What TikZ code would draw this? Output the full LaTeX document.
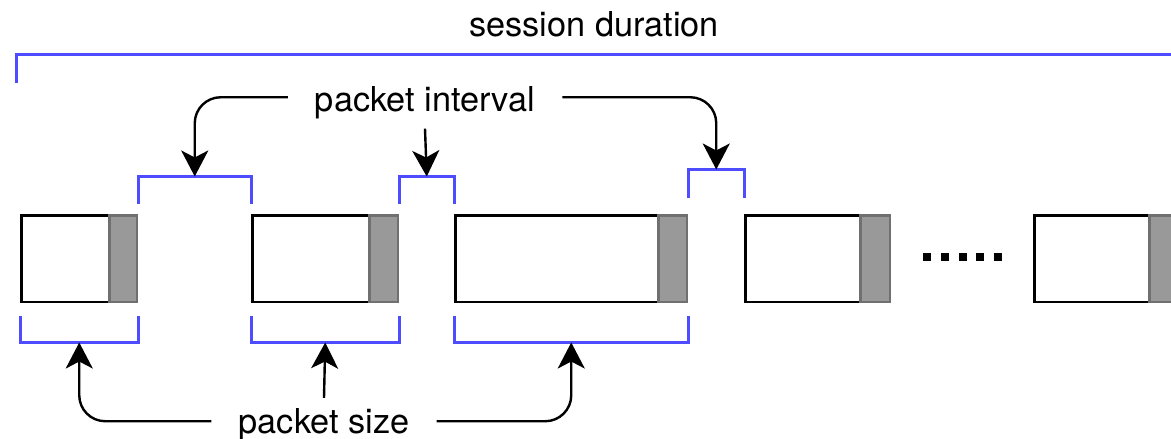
\documentclass[tikz,border=0pt]{standalone}
\usepackage{fontspec}
\setmainfont{TeX Gyre Heros}
\usetikzlibrary{positioning,arrows.meta}
\definecolor{spanblue}{RGB}{77,77,255}
\definecolor{tailgray}{RGB}{153,153,153}
\definecolor{tailedge}{RGB}{112,112,112}
\tikzstyle{arrow} = [line width=2.4pt,-{Stealth[length=26pt,width=27pt,inset=7pt]},rounded corners=26pt]
\tikzstyle{span} = [draw=spanblue,line width=2.8pt]
\tikzstyle{pkt} = [draw=black,line width=2.5pt,fill=white,minimum height=86.5pt,inner sep=0pt,anchor=north west]
\tikzstyle{tail} = [draw=tailedge,fill=tailgray,line width=2.5pt,minimum height=86.5pt,inner sep=0pt,anchor=north east]
\tikzstyle{lbl} = [font=\fontsize{34.3}{40}\selectfont,inner xsep=27pt,inner ysep=10pt,anchor=base]

\begin{document}
\begin{tikzpicture}[x=1pt,y=-1pt]
\useasboundingbox (0,0) rectangle (1171,439);
\clip (0,0) rectangle (1171,439);

% labels
\node[lbl] (sess) at (594,36) {session duration};
\node[lbl] (gap) at (425,111) {packet interval};
\node[lbl] (size) at (324,433) {packet size};

% packets with their grey tails
\foreach \n/\x/\w/\t in {1/20.25/115.5/27.5, 2/251.25/145.5/28.5, 3/454.25/231.5/28.5, 4/744.25/144.5/29.5, 5/1033.25/144.5/29.5}{
  \node[pkt,minimum width=\w pt] (p\n) at (\x,214.25) {};
  \node[tail,minimum width=\t pt] (t\n) at (p\n.north east) {};
}
\foreach \i in {0,...,4}
  \fill (923+\i*17.75,253) rectangle ++(8,8);

% session duration
\coordinate (sessL) at (16.5,83);
\draw[span] (sessL) -- (16.5,54.5) -- (1190,54.5);

% interval brackets
\draw[span] (p1.north east |- 0,204) -- (p1.north east |- 0,176.5) -- coordinate (g1) (p2.north west |- 0,176.5) -- (p2.north west |- 0,204);
\draw[span] (p2.north east |- 0,204) -- (p2.north east |- 0,176.5) -- coordinate (g2) (p3.north west |- 0,176.5) -- (p3.north west |- 0,204);
\draw[span] (p3.north east |- 0,198) -- (p3.north east |- 0,169.5) -- coordinate (g3) (p4.north west |- 0,169.5) -- (p4.north west |- 0,198);

% size brackets
\foreach \n in {1,2,3}
  \draw[span] (p\n.south west |- 0,316) -- (p\n.south west |- 0,342.5) -- coordinate (s\n) (p\n.south east |- 0,342.5) -- (p\n.south east |- 0,316);

% arrows
\draw[arrow] ([yshift=5pt]gap.west) -| (g1);
\draw[arrow] (gap.south) -- (g2);
\draw[arrow] ([yshift=5pt]gap.east) -| (g3);
\draw[arrow] ([yshift=3pt]size.west) -| (s1);
\draw[arrow] (size.north) -- (s2);
\draw[arrow] ([yshift=3pt]size.east) -| (s3);
\end{tikzpicture}
\end{document}
